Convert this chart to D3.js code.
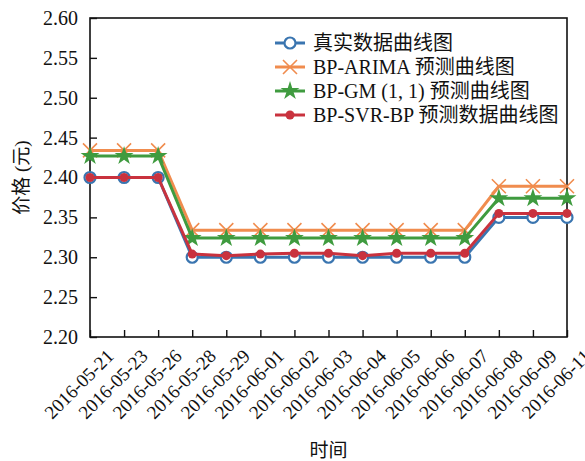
<!DOCTYPE html>
<html>
<head>
<meta charset="utf-8">
<script src="https://cdn.jsdelivr.net/npm/d3@7"></script>
<style>
  html, body { margin: 0; padding: 0; background: #fff; }
  svg { display: block; }
  text { font-family: "Liberation Serif", "Noto Sans CJK SC", serif; fill: #111; }
</style>
</head>
<body>
<svg id="chart" width="585" height="461"></svg>
<script>
const dates = ["2016-05-21","2016-05-23","2016-05-26","2016-05-28","2016-05-29","2016-06-01","2016-06-02","2016-06-03","2016-06-04","2016-06-05","2016-06-06","2016-06-07","2016-06-08","2016-06-09","2016-06-11"];
const actual   = [2.40,2.40,2.40,2.30,2.30,2.30,2.30,2.30,2.30,2.30,2.30,2.30,2.35,2.35,2.35];
const bpArima  = [2.434,2.434,2.434,2.334,2.334,2.334,2.334,2.334,2.334,2.334,2.334,2.334,2.389,2.389,2.389];
const bpGm     = [2.427,2.427,2.427,2.324,2.324,2.324,2.324,2.324,2.324,2.324,2.324,2.324,2.374,2.374,2.374];
const bpSvrBp  = [2.40,2.40,2.40,2.304,2.302,2.304,2.305,2.305,2.302,2.305,2.305,2.305,2.355,2.355,2.355];
const yTicks = [2.20,2.25,2.30,2.35,2.40,2.45,2.50,2.55,2.60];
const seriesNames = ["真实数据曲线图","BP-ARIMA 预测曲线图","BP-GM (1, 1) 预测曲线图","BP-SVR-BP 预测数据曲线图"];
const yTitle = "价格 (元)";
const xTitle = "时间";

const svg = d3.select("#chart");
const plotL = 90, plotR = 567, plotT = 18, plotB = 337;

const x = d3.scalePoint().domain(dates).range([plotL, plotR]).padding(0);
const y = d3.scaleLinear().domain([2.20, 2.60]).range([plotB, plotT]);

const colors = ["#3a75b0", "#f08c4e", "#3f9b3f", "#c9323e"];
const seriesData = [actual, bpArima, bpGm, bpSvrBp];

// frame
svg.append("rect").attr("x", plotL).attr("y", plotT).attr("width", plotR - plotL).attr("height", plotB - plotT)
  .attr("fill", "none").attr("stroke", "#111").attr("stroke-width", 1.6);

// y axis
const yAxis = d3.axisLeft(y).tickValues(yTicks).tickFormat(d3.format(".2f")).tickSizeInner(-7).tickSizeOuter(0).tickPadding(12);
const gy = svg.append("g").attr("transform", `translate(${plotL},0)`).call(yAxis);
gy.select(".domain").remove();
gy.selectAll(".tick line").attr("stroke", "#111").attr("stroke-width", 1.4);
gy.selectAll(".tick text").attr("font-size", 20).attr("font-family", "Liberation Serif, serif").attr("fill", "#111");

// x axis ticks
const xAxis = d3.axisBottom(x).tickSizeInner(-7).tickSizeOuter(0).tickFormat("");
const gx = svg.append("g").attr("transform", `translate(0,${plotB})`).call(xAxis);
gx.select(".domain").remove();
gx.selectAll(".tick line").attr("stroke", "#111").attr("stroke-width", 1.4);

// x labels rotated
svg.append("g").selectAll("text").data(dates).join("text")
  .attr("transform", d => `translate(${x(d) - 11},${384}) rotate(-45)`)
  .attr("text-anchor", "middle")
  .attr("dominant-baseline", "central")
  .attr("font-size", 19)
  .text(d => d);

// titles
svg.append("text").attr("transform", `translate(21,${(plotT + plotB) / 2}) rotate(-90)`)
  .attr("text-anchor", "middle").attr("dominant-baseline", "central").attr("font-size", 19).text(yTitle);
svg.append("text").attr("x", (plotL + plotR) / 2).attr("y", 450)
  .attr("text-anchor", "middle").attr("dominant-baseline", "central").attr("font-size", 19).text(xTitle);

// markers
const starPath = d3.symbol().type(d3.symbolStar).size(110)();
function drawMarker(g, i) {
  if (i === 0) {
    g.append("circle").attr("r", 5.5).attr("fill", "#fff").attr("stroke", colors[0]).attr("stroke-width", 2.2);
  } else if (i === 1) {
    g.append("path").attr("d", "M-7,-7L7,7M-7,7L7,-7").attr("stroke", colors[1]).attr("stroke-width", 1.6).attr("fill", "none");
  } else if (i === 2) {
    g.append("path").attr("d", starPath).attr("fill", colors[2]);
  } else {
    g.append("circle").attr("r", 4.5).attr("fill", colors[3]);
  }
}

const line = d3.line().x((d, j) => x(dates[j])).y(d => y(d));
seriesData.forEach((vals, i) => {
  const g = svg.append("g");
  g.append("path").datum(vals).attr("d", line).attr("fill", "none")
    .attr("stroke", colors[i]).attr("stroke-width", 3).attr("stroke-linejoin", "round");
  vals.forEach((v, j) => {
    const m = g.append("g").attr("transform", `translate(${x(dates[j])},${y(v)})`);
    drawMarker(m, i);
  });
});

// legend
const legY = [43, 67, 91, 115];
seriesNames.forEach((name, i) => {
  const g = svg.append("g").attr("transform", `translate(0,${legY[i]})`);
  g.append("line").attr("x1", 275).attr("x2", 305).attr("stroke", colors[i]).attr("stroke-width", 3);
  const m = g.append("g").attr("transform", "translate(290,0)");
  drawMarker(m, i);
  g.append("text").attr("x", 313).attr("dominant-baseline", "central").attr("font-size", 20).text(name);
});
</script>
</body>
</html>
